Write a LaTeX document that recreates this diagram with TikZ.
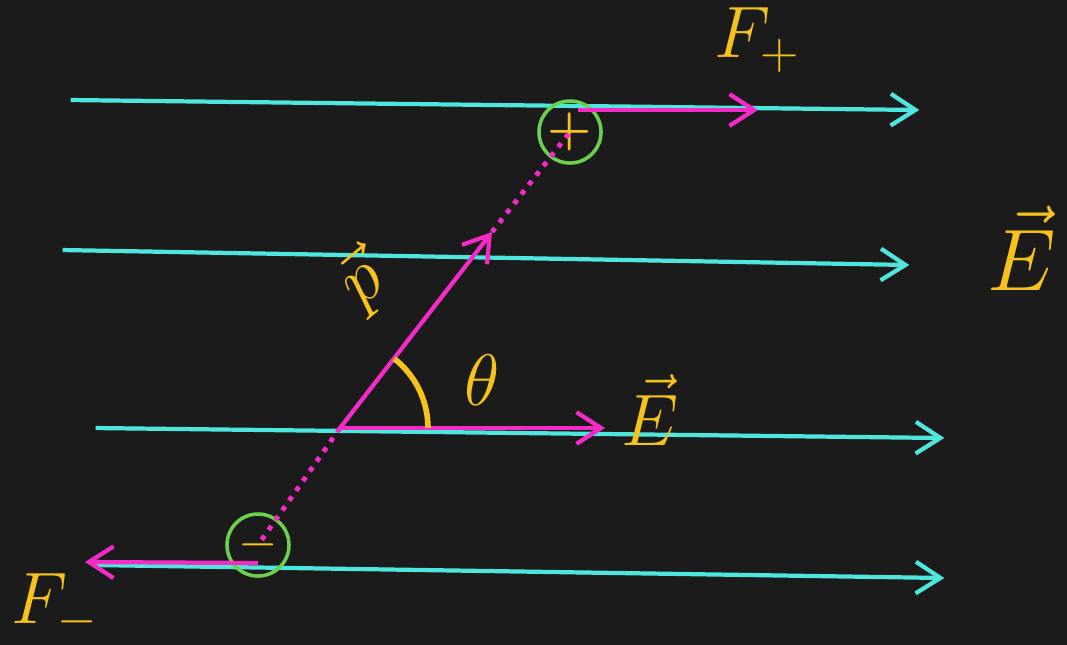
\documentclass[tikz,border=0pt]{standalone}
\usepackage{amsmath,amssymb}
\usepackage{xcolor}
\usepackage{tikz}
\usetikzlibrary{arrows.meta, positioning}

\definecolor{board}{HTML}{1B1B1B}
\definecolor{fieldcyan}{HTML}{4FE6DD}
\definecolor{dipmag}{HTML}{F52BC8}
\definecolor{chalk}{HTML}{F7C21B}
\definecolor{ring}{HTML}{6CD14E}

\begin{document}
\begin{tikzpicture}[
    x=0.01cm, y=-0.01cm,
    fieldline/.style={draw=fieldcyan, line width=1.2pt, -{Straight Barb[length=7pt, width=9pt]}},
    vecline/.style={draw=dipmag, line width=1.2pt, -{Straight Barb[length=7pt, width=9pt]}},
    dotline/.style={draw=dipmag, line width=1.4pt, dotted},
    charge/.style={circle, draw=ring, line width=1pt, minimum size=0.62cm, inner sep=0pt, text=chalk, font=\bfseries\Large},
    label/.style={text=chalk, font=\fontsize{21}{25}\selectfont},
    marker/.style={inner sep=0pt, minimum size=0pt}
]

% Board
\useasboundingbox (0,0) rectangle (1067,644);
\fill[board] (-5,-5) rectangle (1072,649);

% Field lines: start and end points
\node[marker] at (70,100) (l1a) {};  \node[marker] at (920,110) (l1b) {};
\node[marker] at (62,250) (l2a) {};  \node[marker] at (910,265) (l2b) {};
\node[marker] at (95,428) (l3a) {};  \node[marker] at (945,438) (l3b) {};
\node[marker] at (95,565) (l4a) {};  \node[marker] at (945,578) (l4b) {};

\draw[fieldline] (l1a) -- (l1b);
\draw[fieldline] (l2a) -- (l2b);
\draw[fieldline] (l3a) -- (l3b);
\draw[fieldline] (l4a) -- (l4b);

% Charges
\node[charge] at (570,132) (pos) {+};
\node[charge] at (258,545) (neg) {$-$};

% Dipole
\coordinate (mid) at (340,428);
\coordinate (ptip) at (492,232);
\coordinate (etip) at (605,428);
\coordinate (fptip) at (758,110);
\coordinate (fmtip) at (85,562);
\coordinate (posbase) at (578,110);
\coordinate (negbase) at (258,563);

\draw[vecline] (mid) -- (ptip);
\draw[dotline] (ptip) -- (pos.center);
\draw[dotline] (mid) -- (neg.center);
\draw[vecline] (mid) -- (etip);

% Forces on the charges
\draw[vecline] (posbase) -- (fptip);
\draw[vecline] (negbase) -- (fmtip);

% Angle
\draw[chalk, line width=1.6pt] ([shift={(-52:88)}]mid) arc[start angle=-52, end angle=0, radius=88];

% Labels
\node[label] at (482,380) (theta) {$\theta$};
\node[label, rotate=40] at (362,282) (plab) {$\vec{p}$};
\node[label] at (650,410) (elab) {$\vec{E}$};
\node[label] at (758,40) (fplab) {$F_{+}$};
\node[label] at (55,606) (fmlab) {$F_{-}$};
\node[label, font=\fontsize{28}{32}\selectfont] at (1022,248) (ebig) {$\vec{E}$};

\end{tikzpicture}
\end{document}
